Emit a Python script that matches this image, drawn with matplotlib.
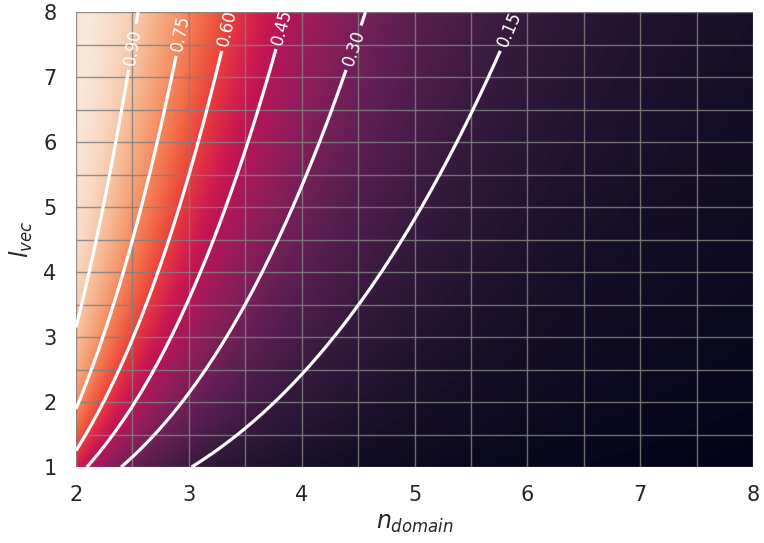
import numpy as np
import matplotlib
matplotlib.use("Agg")
import matplotlib.pyplot as plt
import seaborn as sns

# Achsenbereiche und Hoehenlinien
n_range = [2, 8]
l_range = [1, 8]
levels = [0.15, 0.30, 0.45, 0.60, 0.75, 0.90]
x_ticks = [2, 3, 4, 5, 6, 7, 8]
y_ticks = [1, 2, 3, 4, 5, 6, 7, 8]

C_FAKTOR = 4.15
EXPONENT = 3.0

# Label-Positionen (n, l) fuer clabel
label_pos = [(2.49, 7.47), (2.92, 7.68), (3.34, 7.75),
             (3.84, 7.77), (4.46, 7.45), (5.86, 7.72)]

sns.set_theme(style="white")
plt.rcParams["font.family"] = ["DejaVu Sans"]

n = np.linspace(n_range[0], n_range[1], 500)
l = np.linspace(l_range[0], l_range[1], 500)
N, L = np.meshgrid(n, l)
p = C_FAKTOR / N ** EXPONENT
Z = 1 - (1 - p) ** L

fig = plt.figure(figsize=(7.64, 5.43), dpi=100)
ax = fig.add_axes([76 / 764, 1 - 467 / 543, 677 / 764, 455 / 543])

cmap = sns.color_palette("rocket", as_cmap=True)
ax.imshow(Z, extent=[n_range[0], n_range[1], l_range[0], l_range[1]],
          origin="lower", aspect="auto", cmap=cmap, vmin=0, vmax=1,
          interpolation="bilinear", zorder=0)

cs = ax.contour(N, L, Z, levels=levels, colors="white", linewidths=2.3, zorder=3)
ax.clabel(cs, fmt="%.2f", fontsize=12, inline=True, manual=label_pos)

ax.set_xticks(np.arange(2, 8.01, 0.5), minor=True)
ax.set_yticks(np.arange(1, 8.01, 0.5), minor=True)
ax.set_xticks(x_ticks)
ax.set_yticks(y_ticks)
ax.grid(True, which="both", color="gray", linewidth=1, alpha=0.85, zorder=2)
ax.set_axisbelow(False)
ax.tick_params(which="both", length=0, labelsize=15, colors="#262626")
ax.tick_params(axis="x", pad=13)
ax.tick_params(axis="y", pad=14)
ax.set_xlim(n_range)
ax.set_ylim(l_range)
for s in ax.spines.values():
    s.set_visible(False)

ax.set_xlabel("$n_{domain}$", fontsize=17, color="#262626", labelpad=4)
ax.set_ylabel("$l_{vec}$", fontsize=17, color="#262626", labelpad=6)

fig.savefig("out.png", dpi=100)
